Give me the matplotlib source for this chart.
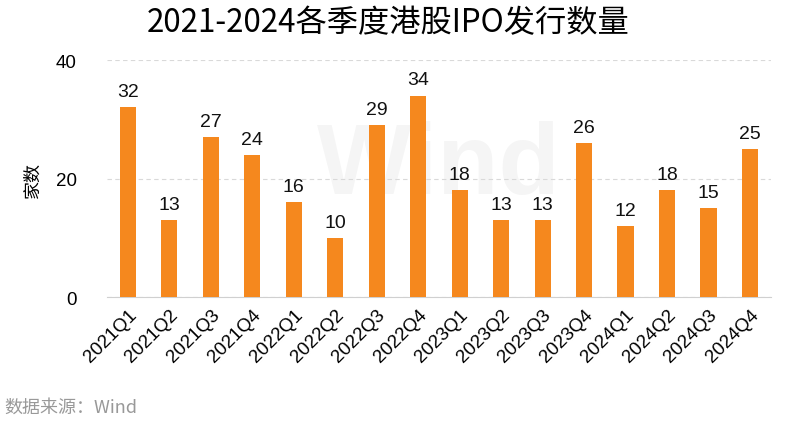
import matplotlib
matplotlib.use("Agg")
import matplotlib.pyplot as plt

quarters = ["2021Q1", "2021Q2", "2021Q3", "2021Q4",
            "2022Q1", "2022Q2", "2022Q3", "2022Q4",
            "2023Q1", "2023Q2", "2023Q3", "2023Q4",
            "2024Q1", "2024Q2", "2024Q3", "2024Q4"]
counts = [32, 13, 27, 24, 16, 10, 29, 34, 18, 13, 13, 26, 12, 18, 15, 25]
y_ticks = [0, 20, 40]

plt.rcParams['font.family'] = ['Liberation Sans', 'Noto Sans CJK SC', 'DejaVu Sans']

fig = plt.figure(figsize=(7.88, 4.27), dpi=100)
ax = fig.add_axes([0.136, 0.302, 0.842, 0.555])

x = list(range(len(quarters)))
ax.bar(x, counts, width=0.39, color="#F5881E", zorder=3)
for xi, v in zip(x, counts):
    ax.text(xi, v + 1.2, str(v), ha="center", va="bottom", fontsize=14, color="#111111", zorder=4)

ax.set_xlim(-0.5, len(quarters) - 0.5)
ax.set_ylim(0, 40)
ax.set_yticks(y_ticks)
ax.set_yticklabels([str(t) for t in y_ticks], fontsize=13.5)
ax.set_xticks(x)
ax.set_xticklabels(quarters, rotation=45, ha="right", rotation_mode="anchor", fontsize=13.5)
ax.tick_params(axis="both", length=0, pad=6)
ax.tick_params(axis="y", pad=22)

for s in ["top", "right", "left"]:
    ax.spines[s].set_visible(False)
ax.spines["bottom"].set_color("#d0d0d0")
ax.yaxis.grid(True, linestyle=(0, (4, 3)), color="#d9d9d9", linewidth=0.8, zorder=0)

# faint watermark
ax.text(0.5, 0.55, "Wind", transform=ax.transAxes, ha="center", va="center",
        fontsize=72, fontweight="bold", color="#000000", alpha=0.04, zorder=1)

ax.set_ylabel("家数", fontsize=13, family=['Noto Sans CJK SC'], labelpad=10)

fig.text(0.493, 0.945, "2021-2024各季度港股IPO发行数量", ha="center", va="center",
         fontsize=22.5, family=['Noto Sans CJK SC'])
fig.text(0.006, 0.046, "数据来源：Wind", ha="left", va="center", fontsize=13,
         color="#999999", family=['Noto Sans CJK SC', 'Liberation Sans'])

fig.savefig("out.png", dpi=100)
